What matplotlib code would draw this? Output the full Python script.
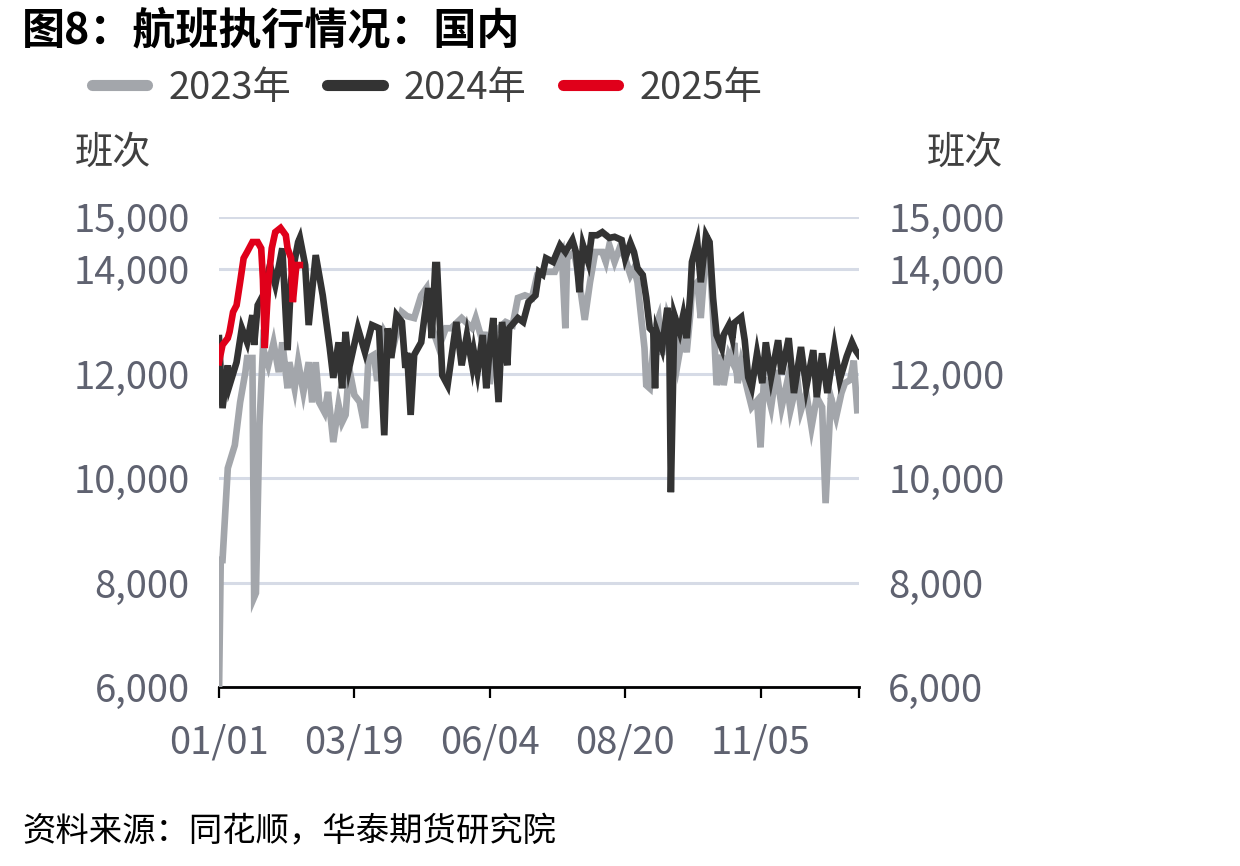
import matplotlib
matplotlib.use('Agg')
import matplotlib.pyplot as plt
import numpy as np

plt.rcParams['font.family'] = ['Noto Sans CJK SC', 'DejaVu Sans']

# day-of-year positions and values (flights per day)
days_2023 = [0, 1, 2, 5, 9, 12, 15, 16, 19, 20, 21, 23, 25, 28, 31, 34, 36, 39, 40, 43,
             45, 48, 51, 53, 55, 57, 60, 62, 65, 68, 70, 72, 74, 77, 80, 83, 85, 88, 90, 94,
             99, 104, 107, 111, 115, 118, 121, 125, 129, 132, 138, 144, 146, 150, 151, 154, 157, 163, 167, 170,
             174, 178, 181, 186, 191, 195, 197, 198, 202, 205, 208, 211, 214, 218, 220, 222, 225, 228, 231, 234,
             236, 238, 240, 242, 243, 245, 248, 250, 252, 255, 259, 261, 264, 266, 268, 269, 272, 274, 277, 279,
             282, 283, 286, 287, 290, 292, 293, 295, 297, 301, 303, 306, 308, 310, 314, 317, 320, 323, 325, 329,
             331, 334, 337, 340, 343, 345, 348, 351, 354, 356, 359, 361, 363]
vals_2023 = [5900, 8430, 8430, 10190, 10630, 11450, 12030, 12300, 12300, 7720, 7800, 11000, 12490, 12160, 12590, 12030, 12600, 11720, 12220, 11720,
             12220, 11650, 12220, 11450, 12220, 11450, 11260, 11650, 10690, 11400, 11070, 11210, 12110, 11590, 11460, 10960, 12300, 12360, 11860, 12800,
             12500, 13180, 13100, 13065, 13500, 13640, 12900, 12500, 12870, 12870, 13065, 12870, 13065, 12600, 12800, 11800, 12800, 12990, 12930, 13450,
             13500, 13450, 13890, 13950, 13950, 14270, 12870, 14210, 14330, 13750, 13030, 13750, 14330, 14330, 14140, 14460, 14140, 14420, 14210, 13890,
             14020, 13750, 13120, 12490, 11780, 11720, 12870, 13065, 12360, 13120, 12740, 12220, 12800, 12410, 13120, 13640, 13750, 13065, 14400, 14300,
             12490, 11780, 12360, 11780, 12360, 12220, 12590, 11820, 12200, 11630, 11360, 11480, 10590, 11930, 11360, 12070, 11360, 11820, 11300, 11880,
             11300, 11630, 10980, 11550, 11360, 9520, 11550, 11170, 11630, 11820, 11880, 12250, 11300]

days_2024 = [0, 2, 5, 6, 10, 13, 16, 19, 20, 22, 25, 29, 32, 36, 39, 41, 45, 46, 49, 51,
             55, 59, 61, 63, 65, 68, 70, 72, 74, 79, 83, 87, 91, 94, 96, 98, 101, 104, 106, 107,
             109, 111, 115, 119, 121, 123, 124, 127, 130, 135, 138, 141, 144, 145, 147, 150, 152, 154, 156, 159,
             161, 164, 165, 170, 173, 176, 180, 182, 184, 186, 190, 194, 197, 201, 203, 205, 207, 210, 212, 215,
             218, 222, 225, 229, 231, 234, 236, 238, 241, 243, 245, 247, 248, 249, 252, 255, 256, 257, 259, 262,
             264, 266, 268, 269, 272, 274, 277, 279, 281, 283, 286, 287, 290, 292, 293, 297, 299, 301, 303, 306,
             309, 311, 314, 318, 320, 324, 327, 331, 334, 338, 340, 343, 346, 350, 353, 357, 360, 362, 364]
vals_2024 = [12680, 11340, 12160, 11780, 12220, 12870, 12600, 13120, 12550, 13310, 13500, 14080, 13700, 14400, 12450, 13800, 14520, 14600, 14080, 12930,
             14270, 13500, 12990, 12490, 11920, 12600, 11720, 12800, 12110, 12870, 12410, 12930, 12870, 10820, 12870, 12300, 13120, 12990, 12110, 12400,
             11210, 12360, 12600, 13640, 12680, 14080, 14080, 11970, 11780, 12990, 12160, 12740, 12160, 12410, 12030, 12740, 11720, 12500, 13065, 11455,
             12990, 12160, 12870, 13065, 12990, 13370, 13500, 13950, 13900, 14210, 14140, 14460, 14330, 14560, 14330, 13560, 14460, 14140, 14650, 14650,
             14710, 14600, 14620, 14560, 14210, 14500, 14330, 14020, 13890, 13450, 12870, 12800, 11720, 12800, 12490, 13260, 12990, 9730, 13120, 12800,
             13120, 12680, 13500, 14140, 14520, 13750, 14650, 14520, 13450, 12740, 12490, 12740, 12930, 12680, 12970, 13080, 12640, 11930, 11740, 12390,
             11820, 12600, 11930, 12640, 11990, 12680, 11630, 12510, 11740, 12450, 11550, 12390, 11630, 12510, 11880, 12330, 12600, 12450, 12350]

days_2025 = [0, 2, 5, 6, 8, 10, 12, 14, 16, 19, 22, 24, 25, 26, 28, 30, 32, 35, 38, 39,
             41, 42, 44, 46]
vals_2025 = [12220, 12550, 12680, 12800, 13180, 13310, 13750, 14210, 14330, 14520, 14520, 14400, 13800, 12490, 13700, 14400, 14710, 14790, 14650, 14400,
             14210, 13370, 14080, 14080]

series = [('2023年', days_2023, vals_2023, '#a3a6ab'),
          ('2024年', days_2024, vals_2024, '#333333'),
          ('2025年', days_2025, vals_2025, '#e0001a')]

yticks = [6000, 8000, 10000, 12000, 14000, 15000]
xticks = [0, 77, 154, 231, 308]
xlabels = ['01/01', '03/19', '06/04', '08/20', '11/05']

text_grey = '#5f6270'
fs = 27.5
fig = plt.figure(figsize=(12.4, 8.66), dpi=100)
ax = fig.add_axes([219 / 1240, 1 - 687 / 866, 640 / 1240, 470 / 866])

for name, d, v, c in series:
    ax.plot(d, v, color=c, lw=4.8, label=name, solid_joinstyle='miter', zorder=3)

ax.set_xlim(0, 364)
ax.set_ylim(6000, 15000)
ax.set_yticks(yticks)
ax.set_yticklabels([f'{t:,}' for t in yticks])
ax.set_xticks(xticks + [364])
ax.set_xticklabels(xlabels + [''])
ax.grid(axis='y', color='#d6dbe6', lw=2.2, zorder=0)
for s in ['top', 'left', 'right']:
    ax.spines[s].set_visible(False)
ax.spines['bottom'].set_linewidth(2)
ax.spines['bottom'].set_color('black')
ax.tick_params(axis='y', length=0, pad=21, labelsize=fs, labelcolor=text_grey)
ax.tick_params(axis='x', length=8, width=1.6, color='black', pad=18, labelsize=fs, labelcolor=text_grey)

ax2 = ax.twinx()
ax2.set_ylim(6000, 15000)
ax2.set_yticks(yticks)
ax2.set_yticklabels([f'{t:,}' for t in yticks])
for s in ax2.spines.values():
    s.set_visible(False)
ax2.tick_params(axis='y', length=0, pad=21, labelsize=fs, labelcolor=text_grey)

fig.text(22 / 1240, 1 - 30 / 866, '图8：航班执行情况：国内', fontsize=31, fontweight='bold',
         va='center', ha='left', color='black')
fig.text(75 / 1240, 1 - 153 / 866, '班次', fontsize=fs, va='center', ha='left', color='#404040')
fig.text(1003 / 1240, 1 - 153 / 866, '班次', fontsize=fs, va='center', ha='right', color='#404040')
fig.text(22 / 1240, 1 - 832 / 866, '资料来源：同花顺，华泰期货研究院', fontsize=24, style='italic',
         va='center', ha='left', color='black')

handles, labels = ax.get_legend_handles_labels()
leg = fig.legend(handles, labels, loc='center left', bbox_to_anchor=(92 / 1240, 1 - 88 / 866),
                 ncol=3, frameon=False, fontsize=fs, handlelength=1.45, handletextpad=0.55,
                 columnspacing=0.95, labelcolor='#404040', borderaxespad=0, borderpad=0)
for h in leg.get_lines():
    h.set_linewidth(8)
    h.set_solid_capstyle('round')

fig.savefig('out.png', dpi=100)
